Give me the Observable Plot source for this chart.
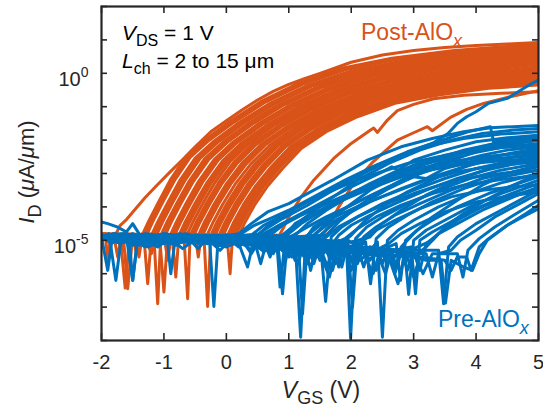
<!DOCTYPE html>
<html><head><meta charset="utf-8">
<script src="https://cdn.jsdelivr.net/npm/d3@7"></script>
<script src="https://cdn.jsdelivr.net/npm/@observablehq/plot@0.6"></script>
<style>body{margin:0;background:#fff}#chart svg{display:block}</style>
</head><body><div id="chart"></div>
<script>
// Gate voltage ticks (V) and current decades (µA/µm)
const xTicks = [-2, -1, 0, 1, 2, 3, 4, 5];
const yDecades = [1e-8, 1e-7, 1e-6, 1e-5, 1e-4, 1e-3, 1e-2, 1e-1, 1e0, 1e1, 1e2];
const yLabelTicks = [1e-5, 1e0];

// Post-AlOx transfer curves: [V_GS, log10(I_D)]
const postAlOx = [
 [[-2,-4.85],[-1.94,-4.8],[-1.9,-5.6],[-1.85,-4.82],[-1.76,-4.78],[-1.7,-4.55],[-1.6,-4.38],[-1.45,-4.05],[-1.3,-3.72],[-1.1,-3.33],[-0.9,-2.95],[-0.7,-2.58],[-0.5,-2.2],[-0.25,-1.75],[0,-1.42],[0.25,-1.1],[0.5,-0.8],[0.75,-0.54],[1,-0.33],[1.25,-0.16],[1.5,0],[2,0.33],[2.5,0.55],[3,0.68],[3.5,0.77],[4,0.83],[4.5,0.88],[5,0.92]],
 [[-2,-4.82],[-1.7,-4.9],[-1.62,-6.43],[-1.55,-4.85],[-1.35,-4.85],[-1.25,-4.45],[-1.1,-3.9],[-0.9,-3.2],[-0.65,-2.5],[-0.35,-2.0],[0.05,-1.45],[0.55,-0.85],[1.15,-0.3],[1.85,0.15],[2.65,0.45],[3.65,0.68],[5,0.88]],
 [[-2,-4.86],[-1.31,-4.85],[-1.21,-4.45],[-1.06,-3.9],[-0.86,-3.21],[-0.61,-2.51],[-0.31,-2.01],[0.09,-1.46],[0.59,-0.86],[1.19,-0.32],[1.89,0.13],[2.69,0.42],[3.69,0.65],[5,0.84]],
 [[-2,-4.88],[-1.6,-4.8],[-1.28,-4.85],[-1.18,-4.45],[-1.03,-3.9],[-0.83,-3.21],[-0.58,-2.52],[-0.28,-2.01],[0.12,-1.47],[0.62,-0.87],[1.22,-0.33],[1.92,0.11],[2.72,0.41],[3.72,0.63],[5,0.82]],
 [[-2,-4.85],[-1.65,-4.9],[-1.58,-6.45],[-1.5,-4.85],[-1.2,-4.85],[-1.1,-4.45],[-0.95,-3.91],[-0.75,-3.22],[-0.5,-2.54],[-0.2,-2.03],[0.2,-1.48],[0.7,-0.9],[1.3,-0.36],[2.0,0.07],[2.8,0.36],[3.8,0.58],[5,0.76]],
 [[-2,-4.84],[-1.4,-4.88],[-1.16,-4.85],[-1.06,-4.45],[-0.91,-3.91],[-0.71,-3.22],[-0.46,-2.54],[-0.16,-2.03],[0.24,-1.49],[0.74,-0.9],[1.34,-0.37],[2.04,0.05],[2.84,0.34],[3.84,0.55],[5,0.73]],
 [[-2,-4.8],[-1.5,-4.85],[-1.32,-4.9],[-1.26,-6.3],[-1.2,-4.85],[-1.12,-4.85],[-1.02,-4.45],[-0.87,-3.91],[-0.67,-3.23],[-0.42,-2.55],[-0.12,-2.04],[0.28,-1.49],[0.78,-0.91],[1.38,-0.38],[2.08,0.04],[2.88,0.32],[3.88,0.53],[5,0.71]],
 [[-2,-4.9],[-1.74,-4.85],[-1.68,-5.4],[-1.62,-4.85],[-1.16,-4.9],[-1.1,-6.9],[-1.05,-4.85],[-0.95,-4.45],[-0.8,-3.91],[-0.6,-3.24],[-0.35,-2.56],[-0.05,-2.05],[0.35,-1.5],[0.85,-0.93],[1.45,-0.41],[2.15,0.01],[2.95,0.29],[3.95,0.49],[5,0.66]],
 [[-2,-4.87],[-1.2,-4.84],[-1.01,-4.85],[-0.91,-4.45],[-0.76,-3.91],[-0.56,-3.24],[-0.31,-2.57],[-0.01,-2.05],[0.39,-1.51],[0.89,-0.94],[1.49,-0.42],[2.19,-0.01],[2.99,0.27],[3.99,0.47],[5,0.63]],
 [[-2,-4.85],[-1.46,-4.85],[-1.4,-5.5],[-1.34,-4.8],[-0.98,-4.85],[-0.88,-4.45],[-0.73,-3.91],[-0.53,-3.24],[-0.28,-2.58],[0.02,-2.06],[0.42,-1.52],[0.92,-0.95],[1.52,-0.43],[2.22,-0.03],[3.02,0.25],[4.02,0.45],[5,0.61]],
 [[-2,-4.9],[-1.6,-4.85],[-1.07,-4.85],[-1.0,-6.55],[-0.94,-4.85],[-0.9,-4.85],[-0.8,-4.45],[-0.65,-3.91],[-0.45,-3.25],[-0.2,-2.59],[0.1,-2.07],[0.5,-1.53],[1.0,-0.97],[1.6,-0.46],[2.3,-0.06],[3.1,0.22],[4.1,0.41],[5,0.56]],
 [[-2,-4.83],[-1.1,-4.88],[-0.865,-4.85],[-0.765,-4.45],[-0.615,-3.91],[-0.415,-3.26],[-0.165,-2.6],[0.135,-2.07],[0.535,-1.53],[1.035,-0.98],[1.635,-0.47],[2.335,-0.07],[3.135,0.2],[4.135,0.39],[5,0.54]],
 [[-2,-4.82],[-1.3,-4.9],[-1.2,-5.4],[-1.12,-4.85],[-0.83,-4.85],[-0.73,-4.45],[-0.58,-3.92],[-0.38,-3.26],[-0.13,-2.6],[0.17,-2.08],[0.57,-1.54],[1.07,-0.99],[1.67,-0.48],[2.37,-0.09],[3.17,0.18],[4.17,0.37],[5,0.51]],
 [[-2,-4.88],[-1.5,-4.82],[-0.87,-4.85],[-0.81,-6.1],[-0.76,-4.85],[-0.66,-4.45],[-0.51,-3.92],[-0.31,-3.27],[-0.06,-2.62],[0.24,-2.09],[0.64,-1.56],[1.14,-1.01],[1.74,-0.51],[2.44,-0.13],[3.24,0.14],[4.24,0.31],[5,0.45]],
 [[-2,-4.86],[-1.0,-4.84],[-0.725,-4.85],[-0.625,-4.45],[-0.475,-3.92],[-0.275,-3.28],[-0.025,-2.63],[0.275,-2.1],[0.675,-1.56],[1.175,-1.02],[1.775,-0.53],[2.475,-0.15],[3.275,0.11],[4.275,0.28],[5,0.41]],
 [[-2,-4.85],[-1.8,-4.9],[-1.74,-5.5],[-1.68,-4.85],[-0.69,-4.85],[-0.59,-4.45],[-0.44,-3.92],[-0.24,-3.28],[0.01,-2.64],[0.31,-2.1],[0.71,-1.57],[1.21,-1.03],[1.81,-0.54],[2.51,-0.17],[3.31,0.09],[4.31,0.26],[5,0.39]],
 [[-2,-4.86],[-1.3,-4.84],[-0.635,-4.85],[-0.535,-4.45],[-0.385,-3.92],[-0.185,-3.28],[0.065,-2.63],[0.365,-2.1],[0.765,-1.56],[1.265,-1.02],[1.865,-0.53],[2.565,-0.15],[3.365,0.11],[4.365,0.28],[5,0.41]],
 [[-2,-4.82],[-1.2,-4.88],[-0.68,-4.85],[-0.62,-6.75],[-0.58,-4.85],[-0.48,-4.45],[-0.33,-3.92],[-0.13,-3.29],[0.12,-2.66],[0.42,-2.11],[0.82,-1.59],[1.32,-1.05],[1.92,-0.57],[2.62,-0.21],[3.42,0.05],[4.42,0.21],[5,0.33]],
 [[-2,-4.84],[-0.9,-4.88],[-0.55,-4.85],[-0.45,-4.45],[-0.3,-3.92],[-0.1,-3.3],[0.15,-2.67],[0.45,-2.12],[0.85,-1.59],[1.35,-1.07],[1.95,-0.59],[2.65,-0.23],[3.45,0.02],[4.45,0.18],[5,0.29]],
 [[-2,-4.88],[-1.0,-4.82],[-0.94,-5.6],[-0.88,-4.85],[-0.52,-4.85],[-0.42,-4.45],[-0.27,-3.93],[-0.07,-3.3],[0.18,-2.68],[0.48,-2.13],[0.88,-1.6],[1.38,-1.08],[1.98,-0.6],[2.68,-0.25],[3.48,0.0],[4.48,0.16],[5,0.27]],
 [[-2,-4.85],[-1.5,-4.9],[-1.45,-5.3],[-1.38,-4.85],[-0.45,-4.85],[-0.35,-4.45],[-0.2,-3.93],[0.0,-3.31],[0.25,-2.69],[0.55,-2.14],[0.95,-1.62],[1.45,-1.1],[2.05,-0.63],[2.75,-0.29],[3.55,-0.05],[4.55,0.1],[5,0.2]],
 [[-2,-4.87],[-1.2,-4.83],[-0.415,-4.85],[-0.315,-4.45],[-0.165,-3.93],[0.035,-3.32],[0.285,-2.7],[0.585,-2.15],[0.985,-1.62],[1.485,-1.11],[2.085,-0.65],[2.785,-0.31],[3.585,-0.07],[4.585,0.07],[5,0.17]],
 [[-2,-4.9],[-1.1,-4.85],[-0.5,-4.8],[-0.45,-5.5],[-0.4,-4.85],[-0.38,-4.85],[-0.28,-4.45],[-0.13,-3.93],[0.07,-3.32],[0.32,-2.71],[0.62,-2.15],[1.02,-1.63],[1.52,-1.12],[2.12,-0.66],[2.82,-0.33],[3.62,-0.09],[4.62,0.05],[5,0.14]],
 [[-2,-4.84],[-0.8,-4.88],[-0.31,-4.85],[-0.21,-4.45],[-0.06,-3.93],[0.14,-3.32],[0.39,-2.72],[0.69,-2.16],[1.09,-1.64],[1.59,-1.13],[2.19,-0.67],[2.89,-0.35],[3.69,-0.11],[4.69,0.03],[5,0.12]],
 [[-2,-4.85],[-1.3,-4.82],[-0.36,-4.85],[-0.3,-6.98],[-0.25,-4.85],[-0.15,-4.45],[0.0,-3.93],[0.2,-3.33],[0.45,-2.73],[0.75,-2.16],[1.15,-1.65],[1.65,-1.14],[2.25,-0.69],[2.95,-0.37],[3.75,-0.14],[4.75,0.0],[5,0.08]],
 [[-2,-4.86],[-0.7,-4.84],[-0.215,-4.85],[-0.115,-4.45],[0.035,-3.93],[0.235,-3.33],[0.485,-2.73],[0.785,-2.17],[1.185,-1.65],[1.685,-1.15],[2.285,-0.7],[2.985,-0.39],[3.785,-0.15],[4.785,-0.02],[5,0.06]],
 [[-2,-4.88],[-0.9,-4.85],[-0.18,-4.85],[-0.08,-4.45],[0.07,-3.94],[0.27,-3.34],[0.52,-2.75],[0.82,-2.18],[1.22,-1.66],[1.72,-1.17],[2.32,-0.72],[3.02,-0.41],[3.82,-0.18],[4.82,-0.06],[5,0.02]],
 [[-2,-4.82],[-1.0,-4.9],[-0.95,-5.3],[-0.9,-4.85],[-0.12,-4.85],[-0.02,-4.45],[0.13,-3.94],[0.33,-3.35],[0.58,-2.76],[0.88,-2.19],[1.28,-1.68],[1.78,-1.19],[2.38,-0.75],[3.08,-0.45],[3.88,-0.23],[5,-0.04]],
 [[-2,-4.84],[-0.5,-4.87],[-0.085,-4.85],[0.015,-4.45],[0.165,-3.94],[0.365,-3.36],[0.615,-2.77],[0.915,-2.2],[1.315,-1.68],[1.815,-1.2],[2.415,-0.77],[3.115,-0.47],[3.915,-0.25],[5,-0.08]],
 [[-2,-4.85],[-0.05,-4.85],[0.05,-4.45],[0.2,-3.94],[0.4,-3.36],[0.65,-2.78],[0.95,-2.2],[1.35,-1.69],[1.85,-1.21],[2.45,-0.78],[3.15,-0.49],[3.95,-0.27],[5,-0.1]],
 [[-2,-4.9],[-0.6,-4.85],[0.02,-4.85],[0.12,-4.45],[0.27,-3.94],[0.47,-3.37],[0.72,-2.8],[1.02,-2.21],[1.42,-1.71],[1.92,-1.23],[2.52,-0.81],[3.22,-0.53],[4.02,-0.32],[5,-0.17]],
 [[-2,-4.86],[-0.4,-4.84],[0.06,-4.85],[0.16,-4.45],[0.31,-3.94],[0.51,-3.38],[0.76,-2.81],[1.06,-2.22],[1.46,-1.71],[1.96,-1.25],[2.56,-0.83],[3.26,-0.55],[4.06,-0.34],[5,-0.2]],
 [[-2,-4.85],[-0.2,-4.9],[0.01,-4.85],[0.06,-6.0],[0.1,-4.85],[0.2,-4.45],[0.35,-3.95],[0.55,-3.38],[0.8,-2.82],[1.1,-2.23],[1.5,-1.72],[2.0,-1.26],[2.6,-0.84],[3.3,-0.57],[4.1,-0.36],[5,-0.23]],
 [[-2,-4.84],[-0.3,-4.86],[0.125,-4.85],[0.225,-4.45],[0.375,-3.95],[0.575,-3.39],[0.825,-2.83],[1.125,-2.23],[1.525,-1.73],[2.025,-1.27],[2.625,-0.86],[3.325,-0.59],[4.125,-0.39],[5,-0.26]],
 [[-2,-4.82],[0.15,-4.85],[0.25,-4.45],[0.4,-3.95],[0.6,-3.39],[0.85,-2.83],[1.15,-2.24],[1.55,-1.74],[2.05,-1.28],[2.65,-0.87],[3.35,-0.61],[4.15,-0.41],[5,-0.29]],
 [[-2,-4.88],[0.2,-4.85],[0.3,-4.45],[0.45,-3.95],[0.65,-3.4],[0.9,-2.85],[1.2,-2.25],[1.6,-1.75],[2.1,-1.3],[2.7,-0.9],[3.4,-0.65],[4.2,-0.45],[5,-0.35]],
 [[-2,-4.85],[-1.0,-4.88],[0.5,-4.85],[0.85,-4.85],[0.92,-4.6],[1.0,-4.3],[1.1,-4.0],[1.19,-3.72],[1.4,-3.2],[1.72,-2.55],[2.0,-2.1],[2.31,-1.7],[2.36,-1.64],[2.42,-1.77],[2.58,-1.4],[2.74,-1.12],[3.0,-0.93],[3.32,-0.76],[3.8,-0.66],[4.4,-0.6],[5,-0.55]],
 [[-2,-4.88],[0.0,-4.85],[1.0,-4.9],[1.55,-4.85],[1.65,-4.5],[1.8,-4.0],[2.04,-3.3],[2.35,-2.65],[2.74,-2.0],[3.0,-1.78],[3.22,-1.6],[3.3,-1.72],[3.59,-1.32],[3.85,-1.08],[4.12,-0.9],[4.5,-0.72],[5,-0.52]]
];

// Pre-AlOx transfer curves: [V_GS, log10(I_D)]
const preAlOx = [
 [[-2,-4.92],[-1.88,-4.8],[-1.77,-6.2],[-1.68,-4.9],[-1.5,-5.05],[-1.35,-4.85],[-1.15,-5.1],[-1.0,-4.88],[-0.8,-5.0],[-0.6,-4.82],[-0.45,-5.1],[-0.3,-4.9],[-0.1,-5.0],[0.05,-4.85],[0.2,-4.8],[0.4,-4.5],[0.66,-4.15],[1.0,-3.9],[1.2,-3.7],[1.7,-3.2],[2.26,-2.6],[2.8,-2.2],[3.3,-1.95],[3.8,-1.75],[4.23,-1.63],[5,-1.56]],
 [[-2,-4.45],[-1.9,-4.5],[-1.75,-4.6],[-1.6,-4.75],[-1.5,-4.5],[-1.4,-4.8],[-1.25,-5.0],[-1.1,-4.85],[-0.9,-5.1],[-0.7,-4.9],[-0.5,-5.0],[-0.3,-4.88],[-0.05,-5.05],[0.2,-4.85],[0.45,-4.55],[0.7,-4.35],[1.0,-4.1],[1.4,-3.7],[1.9,-3.2],[2.4,-2.75],[2.9,-2.35],[3.3,-2.1],[3.55,-1.8],[3.7,-1.5],[3.85,-1.3],[4.0,-1.15],[4.2,-0.9],[4.5,-0.75],[4.7,-0.52],[4.85,-0.35],[5,-0.2]],
 [[-2,-4.95],[-1.8,-4.8],[-1.6,-4.9],[-1.5,-6.2],[-1.42,-4.95],[-1.25,-4.82],[-1.0,-5.1],[-0.8,-4.9],[-0.6,-4.95],[-0.45,-5.25],[-0.3,-4.9],[-0.1,-5.05],[0.1,-4.95],[0.22,-5.2],[0.34,-5.8],[0.45,-4.9],[0.6,-4.7],[0.9,-4.35],[1.3,-3.95],[1.8,-3.4],[2.3,-2.9],[2.8,-2.45],[3.3,-2.1],[3.87,-1.75],[4.23,-1.6],[4.28,-2.05],[4.6,-1.98],[5,-1.9]],
 [[-2,-4.85],[-1.85,-5.1],[-1.7,-4.95],[-1.5,-4.8],[-1.3,-5.0],[-1.1,-4.85],[-0.95,-4.9],[-0.89,-6.0],[-0.82,-4.95],[-0.65,-4.8],[-0.5,-5.05],[-0.3,-4.9],[-0.15,-5.2],[0.0,-4.9],[0.2,-5.0],[0.4,-4.85],[0.6,-4.55],[0.9,-4.25],[1.3,-3.85],[1.8,-3.35],[2.3,-2.85],[2.8,-2.45],[3.3,-2.15],[3.8,-1.95],[4.4,-1.82],[5,-1.75]],
 [[-2,-4.9],[-1.9,-5.9],[-1.83,-4.95],[-1.65,-4.8],[-1.5,-5.1],[-1.3,-4.85],[-1.0,-4.95],[-0.8,-5.15],[-0.65,-4.85],[-0.5,-4.88],[-0.27,-4.95],[-0.2,-6.98],[-0.13,-4.9],[0.05,-5.05],[0.3,-4.95],[0.45,-5.2],[0.6,-4.9],[0.8,-4.6],[1.1,-4.3],[1.5,-3.9],[2.0,-3.4],[2.5,-2.95],[2.65,-2.8],[2.75,-2.9],[3.0,-2.6],[3.5,-2.3],[4.0,-2.05],[4.5,-1.93],[5,-1.85]],
 [[-2,-4.95],[-1.8,-4.8],[-1.6,-4.88],[-1.4,-5.15],[-1.2,-4.95],[-1.0,-4.8],[-0.8,-4.85],[-0.6,-5.1],[-0.4,-4.95],[-0.2,-4.85],[0.0,-4.9],[0.2,-5.2],[0.35,-4.95],[0.5,-4.95],[0.65,-5.3],[0.8,-4.85],[0.86,-6.4],[0.95,-4.85],[1.1,-4.5],[1.4,-4.2],[1.8,-3.8],[2.3,-3.3],[2.7,-2.95],[2.85,-3.0],[3.2,-2.7],[3.7,-2.4],[4.2,-2.2],[4.6,-2.08],[5,-2.0]],
 [[-2,-4.88],[-1.75,-5.05],[-1.5,-4.92],[-1.3,-4.8],[-1.1,-4.85],[-0.9,-5.1],[-0.7,-4.95],[-0.5,-4.85],[-0.3,-4.9],[-0.1,-5.15],[0.2,-4.95],[0.4,-5.3],[0.5,-4.9],[0.6,-4.85],[0.75,-5.4],[0.9,-4.9],[1.0,-4.8],[1.2,-4.5],[1.5,-4.15],[1.9,-3.75],[2.4,-3.3],[2.9,-2.9],[3.4,-2.6],[3.6,-2.62],[3.9,-2.4],[4.4,-2.22],[5,-2.1]],
 [[-2,-4.9],[-1.7,-4.8],[-1.4,-4.85],[-1.2,-5.1],[-1.0,-4.9],[-0.8,-4.92],[-0.5,-5.05],[-0.2,-4.88],[0.1,-5.1],[0.4,-4.95],[0.6,-5.35],[0.8,-4.9],[1.1,-4.95],[1.19,-7.9],[1.27,-4.95],[1.4,-4.6],[1.7,-4.25],[2.1,-3.85],[2.6,-3.4],[3.1,-3.0],[3.6,-2.7],[4.1,-2.45],[4.5,-2.3],[5,-2.2]],
 [[-2,-5.0],[-1.8,-4.85],[-1.5,-4.9],[-1.25,-5.2],[-1.0,-4.95],[-0.75,-4.8],[-0.5,-4.88],[-0.25,-5.1],[0.0,-4.95],[0.25,-4.85],[0.5,-4.9],[0.7,-5.4],[0.8,-4.95],[0.9,-4.95],[0.95,-5.6],[1.02,-4.9],[1.3,-4.6],[1.6,-4.3],[2.0,-3.95],[2.5,-3.5],[3.0,-3.1],[3.2,-3.15],[3.5,-2.85],[4.0,-2.6],[4.5,-2.42],[5,-2.3]],
 [[-2,-4.85],[-1.6,-5.0],[-1.3,-4.95],[-1.0,-4.8],[-0.7,-4.9],[-0.4,-5.1],[0.0,-4.85],[0.3,-5.0],[0.5,-4.95],[0.75,-5.3],[1.0,-4.9],[1.15,-5.0],[1.22,-7.2],[1.3,-5.0],[1.4,-4.85],[1.6,-4.55],[1.9,-4.25],[2.3,-3.85],[2.8,-3.45],[3.3,-3.1],[3.8,-2.8],[4.3,-2.57],[5,-2.4]],
 [[-2,-4.92],[-1.6,-4.85],[-1.2,-4.88],[-0.9,-5.1],[-0.6,-4.95],[-0.2,-4.85],[0.2,-4.9],[0.45,-5.2],[0.7,-4.95],[1.0,-5.3],[1.1,-4.95],[1.3,-5.1],[1.5,-4.95],[1.59,-6.83],[1.68,-4.9],[1.85,-4.6],[2.1,-4.3],[2.5,-3.9],[3.0,-3.5],[3.5,-3.15],[4.0,-2.85],[4.5,-2.65],[5,-2.5]],
 [[-2,-4.9],[-1.5,-5.05],[-1.0,-4.95],[-0.6,-4.85],[-0.2,-4.88],[0.2,-5.1],[0.5,-4.95],[0.82,-5.0],[0.9,-6.6],[0.98,-4.95],[1.15,-5.2],[1.3,-4.9],[1.45,-5.5],[1.55,-4.95],[1.7,-5.1],[1.8,-4.85],[2.0,-4.55],[2.3,-4.25],[2.7,-3.9],[3.2,-3.5],[3.7,-3.15],[4.2,-2.88],[4.6,-2.72],[5,-2.6]],
 [[-2,-4.95],[-1.6,-4.85],[-1.2,-4.9],[-0.8,-5.1],[-0.4,-4.95],[0.0,-4.85],[0.3,-4.88],[0.6,-5.2],[0.9,-4.95],[1.1,-5.3],[1.3,-5.0],[1.4,-5.6],[1.5,-5.0],[1.7,-5.3],[1.92,-5.0],[1.99,-7.94],[2.07,-4.95],[2.25,-4.6],[2.5,-4.3],[2.9,-3.9],[3.4,-3.5],[3.9,-3.15],[4.4,-2.9],[5,-2.7]],
 [[-2,-4.88],[-1.5,-5.0],[-1.0,-4.92],[-0.5,-4.85],[0.0,-4.9],[0.3,-5.15],[0.6,-5.0],[0.7,-5.5],[0.8,-4.95],[1.0,-5.2],[1.2,-5.0],[1.3,-5.7],[1.4,-5.0],[1.6,-5.3],[1.75,-5.05],[1.85,-5.8],[1.95,-5.0],[2.1,-5.2],[2.2,-4.9],[2.4,-4.6],[2.7,-4.25],[3.1,-3.9],[3.6,-3.5],[4.1,-3.15],[4.6,-2.95],[5,-2.8]],
 [[-2,-4.9],[-1.4,-4.85],[-0.8,-4.95],[-0.3,-5.1],[0.1,-4.9],[0.4,-4.9],[0.7,-5.3],[1.0,-5.05],[1.1,-5.6],[1.2,-5.0],[1.4,-5.3],[1.6,-5.1],[1.7,-5.5],[1.8,-5.0],[2.0,-5.35],[2.23,-5.05],[2.31,-6.3],[2.4,-4.95],[2.6,-4.6],[2.9,-4.25],[3.3,-3.85],[3.8,-3.45],[4.3,-3.15],[5,-2.9]],
 [[-2,-4.92],[-1.2,-5.0],[-0.5,-4.88],[0.2,-5.1],[0.7,-4.95],[0.95,-5.4],[1.1,-5.1],[1.25,-5.05],[1.35,-5.9],[1.45,-5.05],[1.65,-5.4],[1.9,-5.1],[2.0,-5.6],[2.1,-5.05],[2.25,-5.4],[2.42,-5.05],[2.5,-7.9],[2.58,-5.0],[2.75,-4.7],[3.0,-4.4],[3.4,-4.0],[3.9,-3.6],[4.4,-3.28],[5,-3.0]],
 [[-2,-4.9],[-1.0,-4.85],[0.0,-4.95],[0.5,-5.2],[1.0,-4.9],[1.25,-5.5],[1.5,-5.1],[1.75,-5.45],[1.95,-5.1],[2.02,-7.0],[2.1,-5.1],[2.25,-5.5],[2.4,-5.2],[2.5,-5.7],[2.6,-5.2],[2.72,-5.1],[2.79,-6.2],[2.87,-5.0],[3.05,-4.7],[3.3,-4.4],[3.7,-4.0],[4.2,-3.6],[4.6,-3.35],[5,-3.1]],
 [[-2,-4.95],[-0.8,-4.9],[0.5,-4.9],[0.8,-5.3],[1.1,-5.0],[1.2,-5.4],[1.3,-5.0],[1.5,-5.5],[1.7,-5.1],[1.8,-5.8],[1.9,-5.1],[2.1,-5.5],[2.3,-5.2],[2.4,-5.9],[2.5,-5.2],[2.65,-5.6],[2.85,-5.15],[2.92,-6.62],[3.0,-5.0],[3.2,-4.7],[3.5,-4.4],[3.9,-4.0],[4.4,-3.6],[5,-3.2]],
 [[-2,-4.88],[0.2,-4.95],[0.6,-5.3],[1.0,-5.0],[1.4,-5.15],[1.5,-5.6],[1.6,-5.1],[2.1,-5.2],[2.2,-5.8],[2.3,-5.2],[2.65,-5.3],[2.72,-5.8],[2.8,-5.25],[2.96,-5.2],[3.03,-6.6],[3.1,-5.0],[3.3,-4.75],[3.6,-4.45],[4.0,-4.05],[4.5,-3.65],[5,-3.3]],
 [[-2,-4.92],[0.3,-4.9],[0.9,-5.05],[1.0,-5.5],[1.1,-5.0],[1.6,-5.2],[1.7,-5.9],[1.8,-5.2],[2.4,-5.3],[2.55,-6.0],[2.65,-5.3],[3.0,-5.35],[3.1,-5.9],[3.2,-5.1],[3.4,-4.8],[3.7,-4.5],[4.1,-4.1],[4.6,-3.7],[5,-3.4]],
 [[-2,-4.9],[0.6,-4.95],[0.9,-5.3],[1.3,-5.1],[1.4,-5.7],[1.5,-5.1],[2.0,-5.2],[2.1,-5.7],[2.2,-5.2],[2.8,-5.3],[2.9,-5.9],[3.0,-5.3],[3.4,-5.3],[3.48,-6.9],[3.56,-5.2],[3.7,-4.9],[4.0,-4.5],[4.4,-4.1],[4.8,-3.7],[5,-3.5]],
 [[-2,-4.95],[0.8,-4.9],[1.2,-5.35],[1.5,-5.1],[1.9,-5.3],[2.0,-5.9],[2.1,-5.3],[2.6,-5.3],[2.7,-6.0],[2.8,-5.35],[3.2,-5.4],[3.3,-6.1],[3.4,-5.4],[3.6,-5.3],[3.75,-5.0],[4.0,-4.7],[4.3,-4.3],[4.7,-3.9],[5,-3.6]],
 [[-2,-4.9],[1.0,-4.95],[1.6,-5.2],[1.7,-5.5],[1.8,-5.2],[2.2,-5.3],[2.3,-5.6],[2.4,-5.3],[3.0,-5.4],[3.15,-6.0],[3.3,-5.4],[3.7,-5.4],[3.79,-6.1],[3.87,-5.3],[4.05,-4.95],[4.3,-4.6],[4.6,-4.25],[5,-3.8]],
 [[-2,-4.88],[1.2,-4.95],[1.8,-5.2],[2.2,-5.4],[2.35,-6.0],[2.45,-5.4],[2.9,-5.5],[3.0,-6.1],[3.1,-5.5],[3.5,-5.6],[3.6,-5.9],[3.7,-5.5],[3.85,-5.5],[3.92,-5.9],[4.05,-5.2],[4.2,-4.95],[4.5,-4.55],[4.8,-4.2],[5,-3.95]],
 [[-2,-4.95],[1.4,-4.9],[2.0,-5.2],[2.6,-5.4],[2.7,-5.8],[2.8,-5.4],[3.2,-5.6],[3.44,-5.6],[3.51,-6.88],[3.6,-5.6],[3.8,-5.8],[3.94,-5.9],[4.05,-5.4],[4.18,-5.0],[4.5,-4.55],[4.8,-4.25],[5,-4.06]],
 [[-2,-4.9],[-1.56,-4.9],[-1.5,-6.2],[-1.42,-4.9],[0.0,-4.95],[1.0,-5.0],[1.8,-5.2],[2.5,-5.3],[3.0,-5.25],[3.3,-5.0],[3.5,-4.6],[3.8,-4.2],[4.2,-3.75],[4.6,-3.35],[5,-3.0]],
 [[-2,-4.85],[-1.0,-4.9],[0.0,-4.85],[0.9,-4.95],[1.5,-5.0],[2.0,-5.05],[2.3,-4.9],[2.5,-4.5],[2.8,-4.1],[3.2,-3.65],[3.7,-3.2],[4.2,-2.85],[4.6,-2.68],[5,-2.55]],
 [[-2,-4.9],[-1.0,-4.95],[0.0,-4.88],[0.6,-4.92],[0.9,-4.85],[1.2,-4.4],[1.6,-3.85],[2.1,-3.2],[2.6,-2.7],[3.1,-2.3],[3.6,-2.0],[4.1,-1.8],[4.6,-1.7],[5,-1.65]],
 [[-2,-4.92],[-0.5,-4.9],[0.5,-4.95],[1.2,-4.9],[1.5,-4.85],[1.75,-4.45],[2.1,-4.0],[2.6,-3.45],[3.1,-3.0],[3.6,-2.6],[4.1,-2.3],[4.6,-2.12],[5,-2.0]],
 [[-2,-4.85],[-1.7,-5.1],[-1.4,-4.9],[-1.1,-5.2],[-0.85,-4.85],[-0.6,-5.0],[-0.35,-4.88],[-0.1,-5.3],[0.1,-4.9],[0.3,-5.05],[0.5,-4.85],[0.7,-4.5],[1.0,-4.15],[1.4,-3.75],[1.9,-3.35],[2.4,-3.0],[2.9,-2.7],[3.4,-2.5],[3.9,-2.35],[4.4,-2.22],[5,-2.15]],
 [[-2,-4.9],[-1.75,-4.82],[-1.5,-5.15],[-1.2,-4.9],[-0.9,-4.95],[-0.7,-5.25],[-0.4,-4.85],[-0.1,-4.95],[0.2,-4.85],[0.4,-5.4],[0.55,-4.95],[0.7,-4.85],[0.9,-4.55],[1.2,-4.25],[1.6,-3.9],[2.1,-3.5],[2.6,-3.15],[3.1,-2.85],[3.6,-2.65],[4.2,-2.48],[5,-2.35]],
 [[-2,-4.95],[-1.6,-4.85],[-1.3,-5.2],[-1.0,-4.9],[-0.6,-4.85],[-0.3,-5.1],[0.1,-4.92],[0.45,-5.0],[0.55,-5.7],[0.65,-5.0],[0.9,-4.9],[1.05,-5.3],[1.2,-4.95],[1.3,-4.85],[1.5,-4.55],[1.8,-4.25],[2.2,-3.9],[2.7,-3.55],[3.2,-3.2],[3.7,-2.95],[4.3,-2.77],[5,-2.65]],
 [[-2,-4.9],[-1.5,-5.1],[-1.0,-4.85],[-0.5,-4.95],[0.0,-5.2],[0.4,-4.9],[0.8,-5.1],[1.05,-5.5],[1.2,-5.05],[1.5,-5.2],[1.62,-5.8],[1.72,-5.1],[1.9,-4.95],[2.1,-4.65],[2.4,-4.3],[2.8,-3.95],[3.3,-3.6],[3.8,-3.35],[4.4,-3.18],[5,-3.05]],
 [[-2,-4.88],[-1.0,-5.0],[0.0,-4.9],[0.6,-5.15],[1.0,-5.05],[1.15,-5.7],[1.25,-5.05],[1.6,-5.3],[1.9,-5.15],[2.05,-5.8],[2.15,-5.2],[2.4,-5.3],[2.6,-5.1],[2.8,-4.8],[3.1,-4.5],[3.5,-4.15],[4.0,-3.85],[4.5,-3.68],[5,-3.55]],
 [[-2,-4.92],[-0.5,-4.9],[0.5,-5.0],[1.1,-5.2],[1.5,-5.35],[1.65,-6.1],[1.75,-5.35],[2.2,-5.4],[2.6,-5.5],[2.75,-6.3],[2.85,-5.5],[3.05,-5.45],[3.2,-5.2],[3.4,-4.8],[3.7,-4.4],[4.1,-4.0],[4.6,-3.65],[5,-3.45]],
 [[-2,-4.85],[-1.2,-4.95],[-0.4,-4.9],[0.3,-5.05],[0.9,-4.95],[1.3,-5.2],[1.6,-5.0],[1.8,-5.4],[1.9,-5.0],[2.0,-4.85],[2.2,-4.45],[2.5,-4.0],[2.9,-3.55],[3.4,-3.1],[3.9,-2.75],[4.4,-2.45],[5,-2.25]],
 [[-2,-4.9],[-0.6,-4.95],[0.6,-4.9],[1.2,-5.2],[1.7,-5.3],[2.15,-5.6],[2.3,-5.3],[2.6,-5.45],[2.7,-5.9],[2.8,-5.2],[3.0,-4.8],[3.3,-4.3],[3.7,-3.8],[4.1,-3.35],[4.5,-3.0],[5,-2.75]],
 [[-2,-4.9],[-1.3,-5.05],[-0.5,-4.88],[0.2,-5.0],[0.8,-4.92],[1.1,-5.25],[1.3,-4.95],[1.6,-4.85],[1.8,-4.45],[2.1,-4.0],[2.5,-3.5],[3.0,-3.0],[3.5,-2.6],[4.0,-2.25],[4.5,-2.0],[5,-1.85]],
 [[-2,-4.88],[-1.4,-5.1],[-0.8,-4.9],[-0.2,-5.05],[0.3,-4.9],[0.6,-5.25],[0.9,-4.85],[1.1,-4.55],[1.4,-4.2],[1.8,-3.85],[2.3,-3.45],[2.8,-3.1],[3.3,-2.85],[3.8,-2.68],[4.4,-2.55],[5,-2.45]],
 [[-2,-4.92],[-1.2,-4.85],[-0.4,-5.0],[0.3,-4.88],[0.7,-5.2],[0.9,-4.95],[1.1,-4.85],[1.3,-4.5],[1.6,-4.1],[2.0,-3.65],[2.5,-3.15],[3.0,-2.75],[3.5,-2.45],[4.0,-2.25],[4.5,-2.1],[5,-2.0]],
 [[-2,-4.9],[-1.0,-5.05],[0.0,-4.9],[0.7,-5.1],[1.1,-5.0],[1.35,-5.5],[1.5,-5.0],[1.6,-4.9],[1.8,-4.6],[2.1,-4.3],[2.5,-3.95],[3.0,-3.6],[3.5,-3.3],[4.0,-3.1],[4.5,-2.98],[5,-2.9]],
 [[-2,-4.9],[-0.8,-4.95],[0.4,-5.0],[1.0,-5.2],[1.5,-5.1],[1.75,-5.7],[1.9,-5.15],[2.05,-5.3],[2.2,-5.0],[2.4,-4.7],[2.7,-4.4],[3.1,-4.05],[3.6,-3.7],[4.1,-3.5],[4.6,-3.4],[5,-3.35]],
 [[-2,-4.95],[-1.6,-4.85],[-1.1,-5.1],[-0.6,-4.9],[-0.1,-5.05],[0.3,-4.85],[0.6,-4.8],[0.9,-4.5],[1.3,-4.15],[1.8,-3.75],[2.3,-3.4],[2.8,-3.1],[3.3,-2.88],[3.8,-2.72],[4.4,-2.62],[5,-2.55]],
 [[-2,-4.88],[-1.0,-4.95],[0.0,-4.9],[0.8,-5.05],[1.2,-4.95],[1.4,-4.85],[1.6,-4.5],[1.9,-4.05],[2.3,-3.5],[2.8,-3.0],[3.3,-2.6],[3.8,-2.3],[4.3,-2.1],[5,-1.95]]
];

const ORANGE = "#D95319", BLUE = "#0072BD", INK = "#262626";

const toRows = (curves, tag) => curves.flatMap((c, i) => c.map(([v, l]) => ({v, I: Math.pow(10, l), id: tag + i})));
const postRows = toRows(postAlOx, "post");
const preRows = toRows(preAlOx, "pre");

const FW = 543 - 101 - 5, FH = 409 - 6 - 69; // frame size for inward tick insets

const chart = Plot.plot({
  width: 543, height: 409,
  marginLeft: 101, marginRight: 5, marginTop: 6, marginBottom: 69,
  style: {fontFamily: "'Liberation Sans', Arial, sans-serif", fontSize: "20px", color: INK, background: "#fff", overflow: "visible"},
  x: {domain: [-2, 5]},
  y: {type: "log", domain: [1e-8, 1e2]},
  marks: [
    Plot.line(postRows, {x: "v", y: "I", z: "id", stroke: ORANGE, strokeWidth: 3, clip: true}),
    Plot.line(preRows, {x: "v", y: "I", z: "id", stroke: BLUE, strokeWidth: 3, clip: true}),
    Plot.tickX(xTicks, {x: d => d, insetTop: FH - 7, stroke: INK, strokeWidth: 1.6}),
    Plot.tickX(xTicks, {x: d => d, insetBottom: FH - 7, stroke: INK, strokeWidth: 1.6}),
    Plot.tickY(yDecades, {y: d => d, insetRight: FW - 6, stroke: INK, strokeWidth: 1.6}),
    Plot.tickY(yDecades, {y: d => d, insetLeft: FW - 6, stroke: INK, strokeWidth: 1.6}),
    Plot.axisX({ticks: xTicks, anchor: "bottom", tickSize: 0, tickPadding: 14, tickFormat: d => String(d), label: null}),
    Plot.axisY({ticks: yLabelTicks, anchor: "left", tickSize: 0, tickPadding: 13, tickFormat: d => "10^" + Math.round(Math.log10(d)), label: null}),
    Plot.frame({stroke: INK, strokeWidth: 2.2})
  ]
});
document.getElementById("chart").appendChild(chart);

const svg = d3.select(chart);
// superscript exponents for y tick labels
svg.selectAll('g[aria-label="y-axis tick label"] text').each(function() {
  const s = this.textContent;
  if (!s.includes("^")) return;
  const [base, exp] = s.split("^");
  const t = d3.select(this);
  t.text(null).attr("y", 13).attr("dy", null);
  t.append("tspan").text(base);
  t.append("tspan").attr("dy", -9).attr("font-size", 14).text(exp);
});

function rich(x, y, parts, {size = 20, sub = 0.75, drop = 0.3, fill = "#000", anchor = "start", rotate = 0} = {}) {
  const t = svg.append("text")
    .attr("transform", `translate(${x},${y})` + (rotate ? ` rotate(${rotate})` : ""))
    .attr("text-anchor", anchor).attr("fill", fill)
    .attr("font-family", "'Liberation Sans', Arial, sans-serif").attr("font-size", size);
  let shift = 0;
  for (const p of parts) {
    const want = p.sub ? Math.round(size * drop) : 0;
    const s = t.append("tspan").text(p.t);
    if (want !== shift) s.attr("dy", want - shift);
    shift = want;
    if (p.sub) s.attr("font-size", Math.round(size * sub));
    if (p.i) s.attr("font-style", "italic");
  }
  return t;
}
rich(122, 40, [{t: "V", i: 1}, {t: "DS", sub: 1}, {t: " = 1 V"}], {size: 21});
rich(122, 68, [{t: "L", i: 1}, {t: "ch", sub: 1}, {t: " = 2 to 15 μm"}], {size: 21});
rich(361, 40, [{t: "Post-AlO"}, {t: "x", sub: 1, i: 1}], {size: 23, sub: 0.8, fill: ORANGE});
rich(438, 327, [{t: "Pre-AlO"}, {t: "x", sub: 1, i: 1}], {size: 23, sub: 0.8, fill: BLUE});
rich(321, 398, [{t: "V", i: 1}, {t: "GS", sub: 1}, {t: " (V)"}], {size: 23, sub: 0.8, drop: 0.24, fill: INK, anchor: "middle"});
rich(34, 172, [{t: "I", i: 1}, {t: "D", sub: 1}, {t: " ("}, {t: "μ", i: 1}, {t: "A/"}, {t: "μ", i: 1}, {t: "m)"}], {size: 22, sub: 0.8, fill: INK, anchor: "middle", rotate: -90});
</script>
</body></html>
